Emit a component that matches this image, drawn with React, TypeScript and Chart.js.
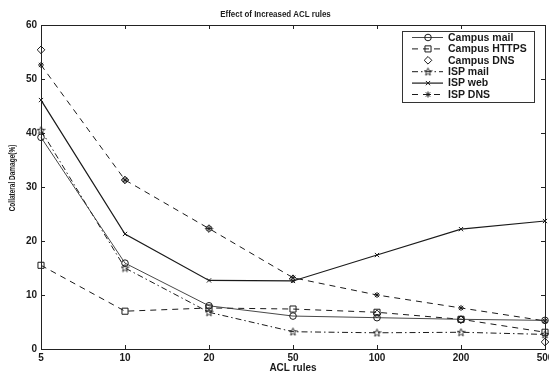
import React, { useEffect, useRef } from "react";
import { Chart, registerables } from "chart.js";
import { drawPoint } from "chart.js/helpers";

Chart.register(...registerables);

const categories = ["5", "10", "20", "50", "100", "200", "500"];
const campusMail = [39.2, 15.9, 8.0, 6.1, 5.8, 5.5, 5.3];
const campusHttps = [15.5, 7.0, 7.6, 7.4, 6.8, 5.5, 3.1];
const campusDns = [55.4, 31.3, 22.3, 13.0, 6.5, 5.4, 1.3];
const ispMail = [40.5, 15.0, 6.8, 3.2, 3.0, 3.1, 2.7];
const ispWeb = [46.1, 21.3, 12.7, 12.6, 17.4, 22.2, 23.7];
const ispDns = [52.6, 31.3, 22.3, 13.2, 10.0, 7.6, 5.2];
const yTicks = [0, 10, 20, 30, 40, 50, 60];

const FONT = "'Liberation Sans', Arial, sans-serif";
const INK = "#1a1a1a";

function makePentagram(): HTMLCanvasElement {
  const c = document.createElement("canvas");
  c.width = 9;
  c.height = 9;
  const g = c.getContext("2d")!;
  g.strokeStyle = INK;
  g.lineWidth = 0.9;
  g.beginPath();
  const cx = 4.5, cy = 4.8, R = 4, r = 1.7;
  for (let i = 0; i < 10; i++) {
    const a = -Math.PI / 2 + (i * Math.PI) / 5;
    const rad = i % 2 === 0 ? R : r;
    const px = cx + rad * Math.cos(a);
    const py = cy + rad * Math.sin(a);
    if (i === 0) g.moveTo(px, py);
    else g.lineTo(px, py);
  }
  g.closePath();
  g.stroke();
  return c;
}

export default function App() {
  const ref = useRef<HTMLCanvasElement>(null);

  useEffect(() => {
    const canvas = ref.current!;
    const star = makePentagram();

    const base = {
      borderColor: INK,
      pointBorderColor: INK,
      pointBackgroundColor: "rgba(255,255,255,0)",
      pointBorderWidth: 1,
      fill: false,
      tension: 0,
    };

    const datasets: any[] = [
      { ...base, label: "Campus mail", data: campusMail, borderWidth: 0.9, borderColor: "#333", borderDash: [], pointStyle: "circle", pointRadius: 3.3 },
      { ...base, label: "Campus HTTPS", data: campusHttps, borderWidth: 1, borderDash: [6, 5], pointStyle: "rect", pointRadius: 4.3 },
      { ...base, label: "Campus DNS", data: campusDns, showLine: false, borderWidth: 0, pointStyle: "rectRot", pointRadius: 3.8 },
      { ...base, label: "ISP mail", data: ispMail, borderWidth: 1, borderDash: [6, 3, 1.5, 3], pointStyle: star, pointRadius: 4 },
      { ...base, label: "ISP web", data: ispWeb, borderWidth: 1.2, borderDash: [], pointStyle: "crossRot", pointRadius: 3 },
      { ...base, label: "ISP DNS", data: ispDns, borderWidth: 1, borderDash: [6, 5], pointStyle: "star", pointRadius: 3 },
    ];

    const frame = {
      id: "frame",
      afterDraw(chart: any) {
        const { ctx, chartArea: a, scales } = chart;
        ctx.save();
        ctx.strokeStyle = "#222";
        ctx.lineWidth = 1;
        ctx.strokeRect(Math.round(a.left) + 0.5, Math.round(a.top) + 0.5, Math.round(a.right - a.left), Math.round(a.bottom - a.top));
        ctx.beginPath();
        for (const v of yTicks) {
          const y = Math.round(scales.y.getPixelForValue(v)) + 0.5;
          ctx.moveTo(a.left, y);
          ctx.lineTo(a.left + 4, y);
          ctx.moveTo(a.right - 4, y);
          ctx.lineTo(a.right, y);
        }
        categories.forEach((_, i) => {
          const x = Math.round(scales.x.getPixelForValue(i)) + 0.5;
          ctx.moveTo(x, a.bottom);
          ctx.lineTo(x, a.bottom - 4);
          ctx.moveTo(x, a.top);
          ctx.lineTo(x, a.top + 4);
        });
        ctx.stroke();

        // title (condensed like the scan)
        ctx.save();
        ctx.fillStyle = INK;
        ctx.font = `bold 9px ${FONT}`;
        ctx.textAlign = "center";
        ctx.textBaseline = "middle";
        ctx.translate(275.5, 15);
        ctx.scale(0.88, 1);
        ctx.fillText("Effect of Increased ACL rules", 0, 0);
        ctx.restore();

        // y axis title (condensed)
        ctx.save();
        ctx.fillStyle = INK;
        ctx.font = `bold 9px ${FONT}`;
        ctx.textAlign = "center";
        ctx.textBaseline = "middle";
        ctx.translate(13, 178);
        ctx.rotate(-Math.PI / 2);
        ctx.scale(0.72, 1);
        ctx.fillText("Collateral Damage(%)", 0, 0);
        ctx.restore();

        // legend
        const bx = 402, by = 31, bw = 132, bh = 71;
        ctx.fillStyle = "#fff";
        ctx.fillRect(bx, by, bw, bh);
        ctx.strokeStyle = "#333";
        ctx.lineWidth = 1;
        ctx.strokeRect(bx + 0.5, by + 0.5, bw, bh);
        chart.data.datasets.forEach((ds: any, i: number) => {
          const y = by + 6.5 + i * 11.4;
          ctx.save();
          ctx.strokeStyle = ds.borderColor;
          ctx.lineWidth = ds.borderWidth || 1;
          ctx.setLineDash(ds.borderDash || []);
          if (ds.showLine !== false) {
            ctx.beginPath();
            ctx.moveTo(412, y);
            ctx.lineTo(443, y);
            ctx.stroke();
          }
          ctx.setLineDash([]);
          ctx.strokeStyle = INK;
          ctx.fillStyle = "rgba(255,255,255,0)";
          ctx.lineWidth = 1;
          drawPoint(ctx, { pointStyle: ds.pointStyle, radius: ds.pointRadius, rotation: 0, borderWidth: 1 }, 428, y);
          ctx.restore();
          ctx.fillStyle = INK;
          ctx.font = `bold 10.5px ${FONT}`;
          ctx.textAlign = "left";
          ctx.textBaseline = "middle";
          ctx.fillText(ds.label, 448, y + 0.5);
        });
        ctx.restore();
      },
    };

    const chart = new Chart(canvas, {
      type: "line",
      data: { labels: categories, datasets },
      options: {
        responsive: false,
        animation: false,
        devicePixelRatio: 1,
        layout: { padding: { top: 25, right: 15, left: 0, bottom: 0 } },
        plugins: {
          legend: { display: false },
          title: { display: false },
          tooltip: { enabled: false },
        },
        scales: {
          x: {
            type: "category",
            offset: false,
            grid: { display: false, drawTicks: false },
            border: { display: false },
            ticks: { color: INK, font: { family: FONT, size: 10, weight: "bold" }, padding: 3, maxRotation: 0, autoSkip: false },
            title: { display: true, text: "ACL rules", color: INK, font: { family: FONT, size: 10, weight: "bold" }, padding: { top: 0, bottom: -1 } },
            afterFit: (s: any) => { s.height = 24; },
          },
          y: {
            min: 0,
            max: 60,
            grid: { display: false, drawTicks: false },
            border: { display: false },
            ticks: { stepSize: 10, color: INK, font: { family: FONT, size: 10, weight: "bold" }, padding: 4 },
            title: { display: false },
            afterFit: (s: any) => { s.width = 41; },
          },
        },
      },
      plugins: [frame],
    } as any);

    return () => chart.destroy();
  }, []);

  return (
    <div style={{ position: "absolute", left: 0, top: 0, width: 549, height: 373, overflow: "hidden", background: "#fff" }}>
      <canvas ref={ref} width={560} height={373} style={{ display: "block", width: 560, height: 373 }} />
    </div>
  );
}
